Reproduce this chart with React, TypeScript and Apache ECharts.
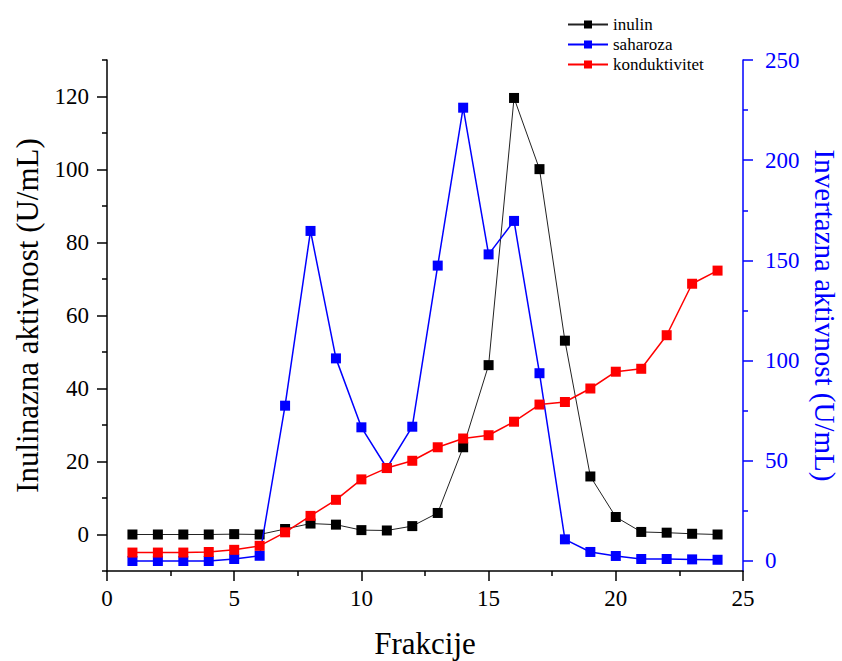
import React, { useEffect, useRef } from "react";
import * as echarts from "echarts";

const fractions = [1, 2, 3, 4, 5, 6, 7, 8, 9, 10, 11, 12, 13, 14, 15, 16, 17, 18, 19, 20, 21, 22, 23, 24];
const inulin = [0, 0, 0, 0, 0.1, 0, 1.5, 3.0, 2.7, 1.2, 1.1, 2.3, 5.9, 23.9, 46.4, 119.6, 100.1, 53.1, 15.9, 4.8, 0.7, 0.5, 0.2, 0];
const saharoza = [0, 0, 0, 0, 1, 2.6, 77.5, 164.7, 101.1, 66.7, 46.4, 67, 147.4, 226.2, 153, 169.7, 93.7, 10.8, 4.5, 2.5, 1, 1, 0.8, 0.6];
const konduktivitet = [-4.95, -4.95, -4.95, -4.8, -4.2, -3.1, 0.6, 5.1, 9.5, 15.1, 18.2, 20.2, 23.9, 26.3, 27.2, 30.9, 35.6, 36.3, 40, 44.6, 45.4, 54.6, 68.7, 72.3];

const leftMajorTicks = [0, 20, 40, 60, 80, 100, 120];
const rightMajorTicks = [0, 50, 100, 150, 200, 250];
const rightMinorTicks = [25, 75, 125, 175, 225];

const FONT = "Liberation Serif";

export default function App() {
  const ref = useRef<HTMLDivElement>(null);
  useEffect(() => {
    document.body.style.margin = "0";
    const chart = echarts.init(ref.current!, null, { renderer: "svg" });
    const pairs = (vals: number[]) => fractions.map((f, i) => [f, vals[i]]);
    chart.setOption({
      animation: false,
      backgroundColor: "#fff",
      textStyle: { fontFamily: FONT },
      grid: { left: 107, right: 99, top: 60, bottom: 90, outerBoundsMode: "none" },
      legend: {
        orient: "vertical",
        left: 562,
        top: 11,
        itemWidth: 40,
        itemHeight: 10,
        itemGap: 3,
        data: ["inulin", "saharoza", "konduktivitet"],
        textStyle: { fontFamily: FONT, fontSize: 17, color: "#000" },
      },
      xAxis: {
        type: "value",
        min: 0,
        max: 25,
        interval: 5,
        name: "Frakcije",
        nameLocation: "middle",
        nameGap: 57,
        nameTextStyle: { fontFamily: FONT, fontSize: 31, lineHeight: 31, color: "#000" },
        axisLine: { show: true, onZero: false, lineStyle: { color: "#000", width: 1.5 } },
        axisTick: { show: true, length: 10, lineStyle: { color: "#000", width: 1.5 } },
        minorTick: { show: true, splitNumber: 2, length: 5, lineStyle: { color: "#000", width: 1.5 } },
        axisLabel: { fontFamily: FONT, fontSize: 23, color: "#000", margin: 16 },
        splitLine: { show: false },
      },
      yAxis: [
        {
          type: "value",
          position: "left",
          min: -10,
          max: 130,
          name: "Inulinazna aktivnost (U/mL)",
          nameLocation: "middle",
          nameGap: 64,
          nameTextStyle: { fontFamily: FONT, fontSize: 31, lineHeight: 31, color: "#000" },
          axisLine: { show: true, onZero: false, lineStyle: { color: "#000", width: 1.5 } },
          axisTick: { show: true, length: 10, customValues: leftMajorTicks, lineStyle: { color: "#000", width: 1.5 } },
          axisLabel: { customValues: leftMajorTicks, fontFamily: FONT, fontSize: 23, color: "#000", margin: 18 },
          splitLine: { show: false },
        },
        {
          type: "value",
          position: "right",
          min: -5,
          max: 250,
          name: "Invertazna aktivnost (U/mL)",
          nameLocation: "middle",
          nameGap: 67,
          nameRotate: -90,
          nameTextStyle: { fontFamily: FONT, fontSize: 29, lineHeight: 29, color: "#0000ff" },
          axisLine: { show: true, onZero: false, lineStyle: { color: "#0000ff", width: 1.5 } },
          axisTick: { show: true, length: 10, customValues: rightMajorTicks, lineStyle: { color: "#0000ff", width: 1.5 } },
          axisLabel: { customValues: rightMajorTicks, fontFamily: FONT, fontSize: 23, color: "#0000ff", margin: 22 },
          splitLine: { show: false },
        },
        {
          type: "value",
          position: "left",
          min: -10,
          max: 130,
          interval: 20,
          axisLine: { show: false },
          axisTick: { show: true, length: 5, lineStyle: { color: "#000", width: 1.5 } },
          axisLabel: { show: false },
          splitLine: { show: false },
        },
        {
          type: "value",
          position: "right",
          min: -5,
          max: 250,
          axisLine: { show: false },
          axisTick: { show: true, length: 5, customValues: rightMinorTicks, lineStyle: { color: "#0000ff", width: 1.5 } },
          axisLabel: { show: false, customValues: rightMinorTicks },
          splitLine: { show: false },
        },
      ],
      series: [
        {
          name: "inulin",
          type: "line",
          yAxisIndex: 0,
          data: pairs(inulin),
          symbol: "rect",
          symbolSize: 10,
          itemStyle: { color: "#000" },
          lineStyle: { color: "#222", width: 1 },
          z: 2,
        },
        {
          name: "saharoza",
          type: "line",
          yAxisIndex: 1,
          data: pairs(saharoza),
          symbol: "rect",
          symbolSize: 10,
          itemStyle: { color: "#0000ff" },
          lineStyle: { color: "#0000ff", width: 1.5 },
          z: 3,
        },
        {
          name: "konduktivitet",
          type: "line",
          yAxisIndex: 0,
          data: pairs(konduktivitet),
          symbol: "rect",
          symbolSize: 10,
          itemStyle: { color: "#ff0000" },
          lineStyle: { color: "#ff0000", width: 1.5 },
          z: 4,
        },
      ],
    });
    return () => chart.dispose();
  }, []);
  return <div ref={ref} style={{ position: "fixed", left: 0, top: 0, width: 842, height: 661 }} />;
}
